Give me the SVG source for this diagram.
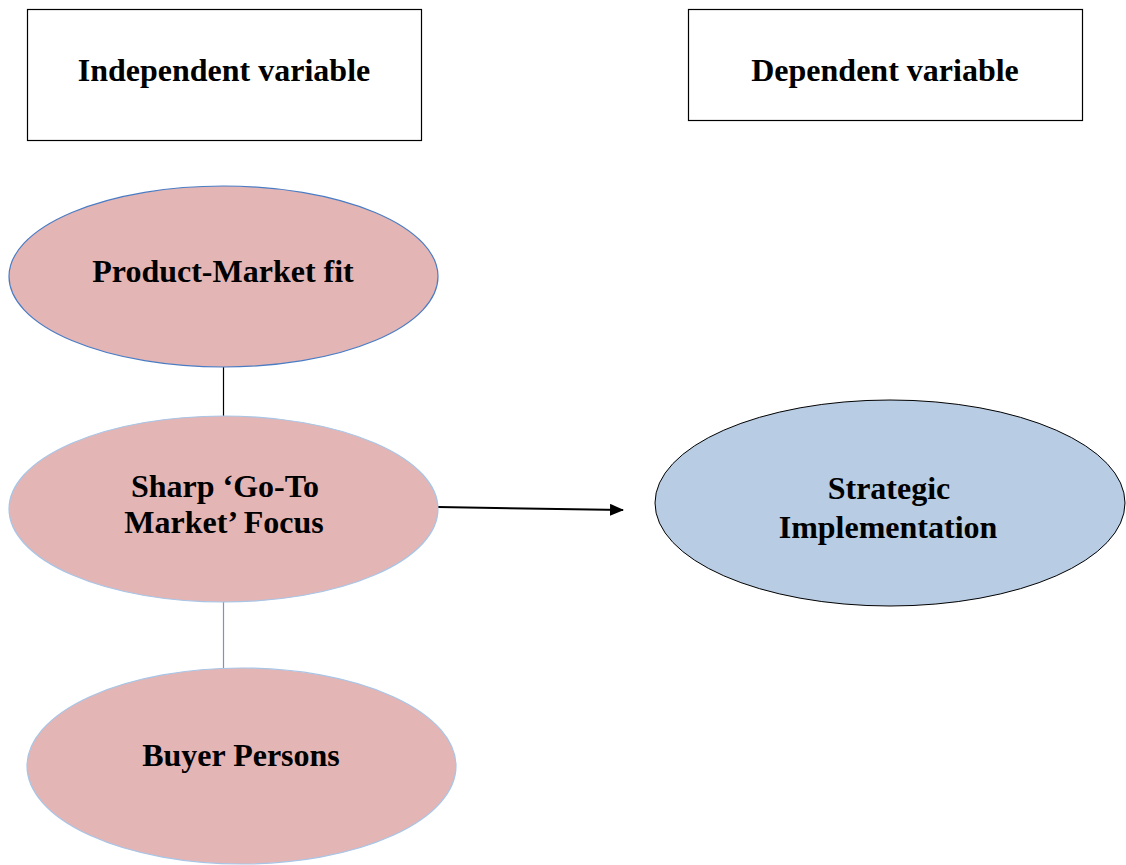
<svg xmlns="http://www.w3.org/2000/svg" width="1126" height="865" viewBox="0 0 1126 865">
  <style>
    .lbl { font-family: "Liberation Serif", "Times New Roman", serif; font-weight: bold; font-size: 32px; fill: #000; text-anchor: middle; }
    .box { fill: #fff; stroke: #000; stroke-width: 1.2; }
    .pink { fill: #e4b5b5; }
  </style>
  <defs>
    <marker id="arrow" markerWidth="14" markerHeight="12" refX="13" refY="6" orient="auto" markerUnits="userSpaceOnUse" viewBox="0 0 14 12">
      <path d="M0,0 L14,6 L0,12 z" fill="#000"/>
    </marker>
  </defs>

  <g id="connectors">
    <line x1="223.5" y1="367" x2="223.5" y2="417" stroke="#000" stroke-width="1.2"/>
    <line x1="223.5" y1="602" x2="223.5" y2="668" stroke="#6f97cf" stroke-width="1.2"/>
    <line x1="438" y1="507" x2="623" y2="510" stroke="#000" stroke-width="2" marker-end="url(#arrow)"/>
  </g>

  <g id="independent-label">
    <rect class="box" x="27.5" y="9.5" width="394" height="131"/>
    <text class="lbl" x="224" y="81">Independent variable</text>
  </g>

  <g id="dependent-label">
    <rect class="box" x="688.5" y="9.5" width="394" height="111"/>
    <text class="lbl" x="885" y="81">Dependent variable</text>
  </g>

  <g id="product-market-fit">
    <ellipse class="pink" cx="223.5" cy="276.5" rx="214.5" ry="90.5" stroke="#4a7cc4" stroke-width="1.2"/>
    <text class="lbl" x="223" y="282">Product-Market fit</text>
  </g>

  <g id="go-to-market">
    <ellipse class="pink" cx="223.5" cy="509" rx="214.5" ry="93" stroke="#a8c5e6" stroke-width="1.2"/>
    <text class="lbl" x="225" y="497">Sharp ‘Go-To</text>
    <text class="lbl" x="224" y="533">Market’ Focus</text>
  </g>

  <g id="buyer-persons">
    <ellipse class="pink" cx="241.5" cy="766" rx="214.5" ry="98" stroke="#a8c5e6" stroke-width="1.2"/>
    <text class="lbl" x="241" y="766">Buyer Persons</text>
  </g>

  <g id="strategic-implementation">
    <ellipse cx="890" cy="503" rx="235" ry="103" fill="#b8cce4" stroke="#000" stroke-width="1"/>
    <text class="lbl" x="889" y="499">Strategic</text>
    <text class="lbl" x="888" y="538">Implementation</text>
  </g>
</svg>
